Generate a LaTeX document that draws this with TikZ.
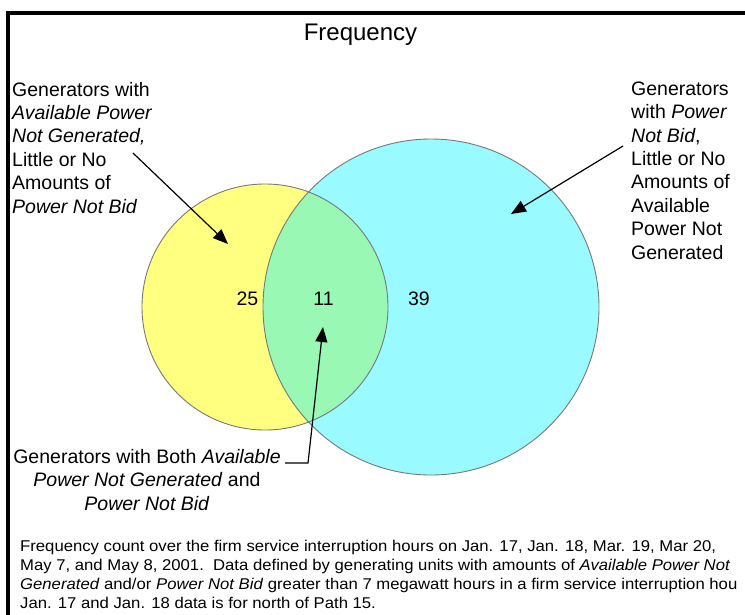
\documentclass[tikz,border=0pt]{standalone}
\usepackage{fontspec}
\setmainfont{Liberation Sans}
\newfontfamily\notefont[FakeStretch=1.07]{Liberation Sans}
\usetikzlibrary{arrows.meta}
\definecolor{venyellow}{RGB}{255,255,128}
\definecolor{vencyan}{RGB}{153,250,255}
\definecolor{vengreen}{RGB}{153,248,180}
\definecolor{venedge}{RGB}{120,120,120}
\begin{document}
\begin{tikzpicture}[x=1pt,y=-1pt,
  lbl/.style={inner sep=0pt, font=\fontsize{19.5}{23.4}\selectfont},
  numlbl/.style={inner sep=0pt, font=\fontsize{19.5}{23.4}\selectfont},
  notetext/.style={inner sep=0pt, align=left, font=\notefont\fontsize{15.6}{19}\selectfont},
  pointer/.style={-{Triangle[length=15pt,width=12pt]}, line width=1.2pt, black},
  venline/.style={venedge, line width=0.9pt}
]
\useasboundingbox (0,0) rectangle (745,614);
\clip (0,0) rectangle (745,614);
% frame
\draw[line width=4pt] (8,13) rectangle (800,700);
% circles
\fill[venyellow] (265,307) circle[radius=123];
\fill[vencyan] (431,307) circle[radius=168];
\begin{scope}
  \clip (265,307) circle[radius=123];
  \fill[vengreen] (431,307) circle[radius=168];
\end{scope}
\draw[venline] (265,307) circle[radius=123];
\draw[venline] (431,307) circle[radius=168];
% title
\node[inner sep=0pt, anchor=base, font=\fontsize{24}{28}\selectfont] (title) at (360.5,40) {Frequency};
% numbers
\node[numlbl] (n25) at (247.5,299) {25};
\node[numlbl] (n11) at (323.5,299) {11};
\node[numlbl] (n39) at (419,299) {39};
% labels (base anchor = baseline of the last line)
\node[lbl, anchor=base west, align=left] (lgen) at (12,213)
  {Generators with\\ \textit{Available Power}\\ \textit{Not Generated,}\\ Little or No\\ Amounts of\\ \textit{Power Not Bid}};
\node[lbl, anchor=base west, align=left] (rgen) at (631,259)
  {Generators\\ with \textit{Power}\\ \textit{Not Bid},\\ Little or No\\ Amounts of\\ Available\\ Power Not\\ Generated};
\node[lbl, anchor=base, align=center] (bgen) at (147,510)
  {Generators with Both \textit{Available}\\ \textit{Power Not Generated} and\\ \textit{Power Not Bid}};
% note
\node[notetext, anchor=base west] (note) at (20,608)
  {Frequency count over the firm service interruption hours on Jan. 17, Jan. 18, Mar. 19, Mar 20,\\
   May 7, and May 8, 2001.\ \ Data defined by generating units with amounts of \textit{Available Power Not}\\
   \textit{Generated} and/or \textit{Power Not Bid} greater than 7 megawatt hours in a firm service interruption hou\\
   Jan. 17 and Jan. 18 data is for north of Path 15.};
% connectors
\coordinate (ltail) at (133,153);
\coordinate (ltip) at (228,244);
\coordinate (rtail) at (623,146);
\coordinate (rtip) at (511,214);
\coordinate (bstart) at (285,463);
\coordinate (bknee) at (308,463);
\coordinate (btip) at (323,327);
\draw[pointer] (ltail) -- (ltip);
\draw[pointer] (rtail) -- (rtip);
\draw[pointer] (bstart) -- (bknee) -- (btip);
\end{tikzpicture}
\end{document}
